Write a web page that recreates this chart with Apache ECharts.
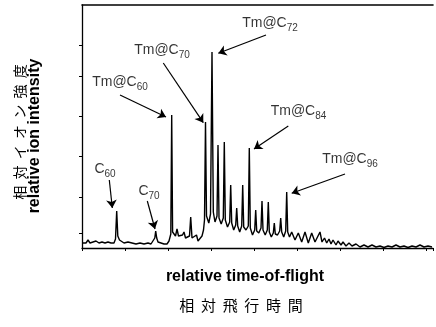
<!DOCTYPE html>
<html><head><meta charset="utf-8">
<script src="https://cdn.jsdelivr.net/npm/echarts@6/dist/echarts.min.js"></script>
<style>html,body{margin:0;padding:0;background:#fff}#c{width:436px;height:327px}</style>
</head><body><div id="c"></div><script>
// ---- data (relative time-of-flight, relative ion intensity; arbitrary units) ----
const baselineTrace = [
 [0,5],[2,7],[4,5],[6,8],[8,5],[11,6],[14,7],[17,5],[20,6],[23,5],[26,6],[29,5],[32,5],
 [33.5,9],[34.7,37],[35.8,12],[37.5,8],[39,6],[42,5],[46,6],[50,5],[54,4],[58,5],[62,4],
 [66,5],[69,4],[71,6],[72.8,10],[73.7,17],[74.7,10],[76,6],[79,5],[82,4],[85,4],[87,7]
];
const clusterTrace = [
 [88.8,14],[89.7,133],[90.6,16],[92,16],[93.5,12],[95,19],[96.5,12],[98.5,10],[100.5,13],
 [102,16],[103.5,10],[105.5,8],[107.5,12],[108.7,31],[110,10],[112,8],[114.5,13],[116,7],
 [118,6],[120,12],[121.5,18],[122.5,28],[123.5,126],[124.5,32],[126.8,25],
 [128.5,34],[130,196],[131.3,36],[133,26],
 [135,32],[136,103],[137,30],[139.2,24],
 [141.3,30],[142.3,106],[143.3,28],[145.5,21],
 [147.7,26],[148.7,63],[149.7,25],[151.7,18],
 [153.7,23],[154.7,40],[155.7,22],[157.7,16],
 [159.7,22],[160.7,63],[161.7,21],[164,18],
 [166.3,22],[167.3,100],[168.3,20],[170.5,13],
 [172.7,18],[173.7,38],[174.7,17],[176.8,15],
 [179,20],[180,47],[181,18],[183.2,13],
 [185.3,18],[186.3,46],[187.3,16],[189.3,11],
 [191.3,15],[192.3,25],[193.3,14],[195.5,13],
 [197.7,17],[198.7,30],[199.7,16],[201.7,11],
 [203.7,17],[204.7,56],[205.7,16],[207.5,11]
];
const tailTrace = [
 [209.7,16],[213,8],[216.3,15],[219.7,6],[223,16],[226.3,5],[229.7,15],[233,6],[236,12],
 [238,16],[240,6],[242.5,10],[244.7,5],[247,9],[249,4],[251,8],[254,3],[256,7],[259,3],
 [261,6],[264,2],[267,5],[270,2],[274,4],[278,1],[282,3],[286,1],[290,3],[294,1],[298,2],
 [302,0.5],[306,2],[310,1],[314,3],[318,1],[322,2],[326,0.5],[330,2],[334,1],[338,3],
 [342,1],[346,2],[350,1]
];
const peakNames = ['C','C','Tm@C','Tm@C','Tm@C','Tm@C','Tm@C'];
const peakSubs  = ['60','70','60','70','72','84','96'];
const yTickValues = [15, 51, 92, 132, 172, 203];
const xTitle = 'relative time-of-flight';
const xTitleJa = '相  対  飛  行  時  間';
const yTitle = 'relative ion intensity';
const yTitleJa = '相  対  イ  オ  ン  強  度';

// ---- layout (annotation anchors, in axis units) ----
const labelAnchors = [[23,79],[67,57],[38,165.5],[80,197.5],[188,224.5],[216.5,136.5],[268,88.5]];
const arrowFrom = [[27.3,68],[65.3,47],[38,153],[81.3,185],[184,213],[206.3,122],[263,74]];
const arrowTo   = [[30.3,40],[73,19],[84,131],[121.3,125.3],[136.3,194.7],[172,99],[209.7,54.7]];

const trace = baselineTrace.concat(clusterTrace, tailTrace);
const ink = '#000';
const chart = echarts.init(document.getElementById('c'), null, {renderer:'canvas'});
chart.setOption({
  animation:false,
  grid:{left:82,right:3,top:5,bottom:79},
  xAxis:[
    {type:'value',min:0,max:351,interval:43,
     axisLine:{show:true,onZero:false,lineStyle:{color:ink,width:1.3}},
     axisTick:{show:true,length:3,lineStyle:{color:ink,width:1}},
     axisLabel:{show:false},splitLine:{show:false}},
    {type:'value',position:'top',min:0,max:351,
     axisLine:{show:true,onZero:false,lineStyle:{color:ink,width:1.6}},
     axisTick:{show:false},axisLabel:{show:false},splitLine:{show:false}}
  ],
  yAxis:{type:'value',min:0,max:243,
     axisLine:{show:true,onZero:false,lineStyle:{color:ink,width:1.3}},
     axisTick:{show:true,length:3,customValues:yTickValues,lineStyle:{color:ink,width:1}},
     axisLabel:{show:false},splitLine:{show:false}},
  series:[
    {type:'line',data:trace,symbol:'none',silent:true,
     lineStyle:{color:ink,width:1.4},
     markLine:{silent:true,symbol:['none','arrow'],symbolSize:8,
       label:{show:false},
       lineStyle:{color:ink,width:1.2,type:'solid'},
       emphasis:{disabled:true},
       data:arrowFrom.map((p,i)=>[{coord:p},{coord:arrowTo[i]}])}
    },
    {type:'scatter',silent:true,symbolSize:1,itemStyle:{color:'rgba(0,0,0,0)'},
     data:labelAnchors.map((p,i)=>[p[0],p[1],i]),
     label:{show:true,position:'inside',color:ink,
       formatter:p=>'{m|'+peakNames[p.value[2]]+'}{s|'+peakSubs[p.value[2]]+'}',
       rich:{
         m:{fontFamily:'Liberation Sans',fontSize:14,lineHeight:20,verticalAlign:'middle',color:ink},
         s:{fontFamily:'Liberation Sans',fontSize:10,lineHeight:10,verticalAlign:'bottom',color:ink}
       }}
    }
  ],
  graphic:[
    {type:'text',x:20,y:132,rotation:Math.PI/2,silent:true,
     style:{text:yTitleJa,font:'14px "Noto Sans CJK JP"',fill:ink,textAlign:'center',textVerticalAlign:'middle',align:'center',verticalAlign:'middle'}},
    {type:'text',x:35,y:136,rotation:Math.PI/2,silent:true,
     style:{text:yTitle,font:'bold 16px "Liberation Sans"',fill:ink,textAlign:'center',textVerticalAlign:'middle',align:'center',verticalAlign:'middle'}},
    {type:'text',x:245,y:277,silent:true,
     style:{text:xTitle,font:'bold 16px "Liberation Sans"',fill:ink,textAlign:'center',textVerticalAlign:'middle',align:'center',verticalAlign:'middle'}},
    {type:'text',x:241,y:305,silent:true,
     style:{text:xTitleJa,font:'15px "Noto Sans CJK JP"',fill:ink,textAlign:'center',textVerticalAlign:'middle',align:'center',verticalAlign:'middle'}}
  ]
});
</script></body></html>
